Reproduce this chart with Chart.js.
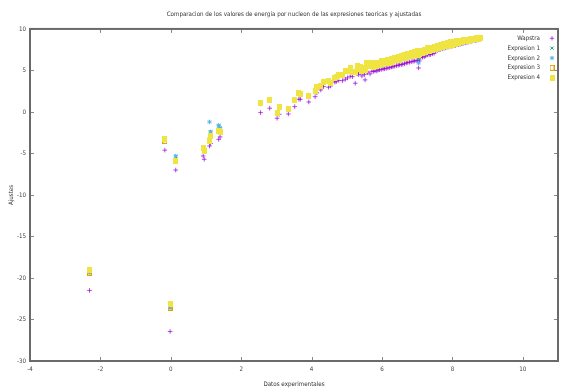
<!DOCTYPE html>
<html>
<head>
<meta charset="utf-8">
<script src="https://cdn.jsdelivr.net/npm/chart.js@4/dist/chart.umd.min.js"></script>
<style>
  html, body { margin: 0; padding: 0; background: #fff; overflow: hidden; }
</style>
</head>
<body>
<canvas id="grafica" width="563" height="389"></canvas>
<script>
// valores: un nucleo por posicion
const datosExp = [
  -2.31, -0.17, -0.02, 0.14, 0.92, 0.95, 1.10, 1.13, 1.36, 1.40,
  2.55, 2.81, 3.02, 3.08, 3.34, 3.52, 3.64, 3.68, 3.92, 4.10,
  4.15, 4.26, 4.34, 4.48, 4.54, 4.66, 4.70, 4.77, 4.88, 4.96,
  5.02, 5.10, 5.16, 5.24, 5.29, 5.33, 5.38, 5.43, 5.50, 5.52,
  5.57, 5.59, 5.66, 5.71,
  5.76, 5.80, 5.85, 5.89, 5.93, 5.98, 6.03, 6.07, 6.12, 6.17,
  6.22, 6.27, 6.31, 6.36, 6.41, 6.46, 6.50, 6.55, 6.59, 6.64,
  6.69, 6.73, 6.78, 6.83, 6.88, 6.92, 6.97, 7.01, 7.04, 7.06,
  7.10, 7.15, 7.20, 7.24, 7.29, 7.34, 7.38, 7.43, 7.48, 7.52,
  7.57, 7.62, 7.66, 7.71, 7.76, 7.80, 7.85, 7.90, 7.95, 7.99,
  8.04, 8.09, 8.13, 8.18, 8.23, 8.27, 8.32, 8.37, 8.41, 8.46,
  8.51, 8.55, 8.60, 8.65, 8.69, 8.74, 8.78, 8.80
];
const wapstra = [
  -21.5, -4.6, -26.45, -7.0, -5.3, -5.7, -4.1, -3.8, -3.3, -3.0,
  -0.08, 0.45, -0.76, -0.28, -0.24, 0.64, 1.53, 1.53, 1.2, 1.84,
  2.3, 2.65, 3.05, 2.98, 3.13, 3.6, 3.65, 3.8, 3.77, 3.94,
  4.1, 4.3, 4.25, 3.46, 4.6, 4.5, 4.73, 4.34, 4.5, 3.86,
  4.9, 4.73, 4.58, 4.9,
  4.88, 4.95, 4.94, 5.05, 5.08, 5.12, 5.18, 5.2, 5.25, 5.3,
  5.34, 5.42, 5.45, 5.52, 5.58, 5.62, 5.68, 5.72, 5.75, 5.82,
  5.9, 5.96, 5.99, 6.05, 6.1, 6.14, 6.18, 6.2, 5.3, 6.14,
  6.54, 6.6, 6.65, 6.75, 6.87, 6.9, 6.92, 7.0, 7.07, 7.3,
  7.4, 7.5, 7.55, 7.6, 7.68, 7.72, 7.8, 7.82, 7.9, 7.92,
  8.0, 8.02, 8.1, 8.12, 8.18, 8.22, 8.28, 8.32, 8.38, 8.42,
  8.48, 8.52, 8.58, 8.6, 8.66, 8.68, 8.74, 8.72
];
const expresion1 = [
  -19.3, -3.3, -23.55, -5.4, -4.2, -4.5, -3.3, -2.4, -1.7, -2.0,
  1.0, 1.4, -0.2, 0.55, 0.35, 1.4, 2.3, 2.1, 1.9, 2.5,
  3.0, 3.1, 3.6, 3.7, 3.4, 4.1, 4.2, 4.4, 4.45, 4.9,
  4.85, 5.2, 4.75, 4.8, 5.45, 5.15, 5.4, 4.85, 5.3, 5.0,
  5.85, 5.7, 5.5, 5.9,
  5.35, 5.8, 5.45, 5.9, 5.55, 6.05, 5.7, 6.1, 5.8, 6.2,
  5.9, 6.35, 6.0, 6.45, 6.15, 6.55, 6.25, 6.7, 6.4, 6.8,
  6.5, 6.95, 6.65, 7.05, 6.75, 7.15, 6.85, 7.25, 6.4, 6.95,
  7.35, 7.05, 7.45, 7.15, 7.6, 7.3, 7.7, 7.45, 7.8, 7.55,
  7.95, 7.65, 8.05, 7.75, 8.15, 7.85, 8.25, 7.95, 8.35, 8.05,
  8.4, 8.15, 8.5, 8.25, 8.55, 8.35, 8.6, 8.45, 8.7, 8.55,
  8.75, 8.65, 8.8, 8.72, 8.85, 8.8, 8.88, 8.85
];
const expresion2 = [
  -19.3, -3.4, -23.6, -5.3, -4.3, -4.6, -1.2, -2.4, -1.6, -1.9,
  0.95, 1.35, -0.25, 0.5, 0.3, 1.35, 2.25, 2.05, 1.85, 2.45,
  2.95, 3.05, 3.55, 3.65, 3.35, 4.05, 4.15, 4.35, 4.4, 4.85,
  4.8, 5.15, 4.7, 4.75, 5.4, 5.1, 5.35, 4.8, 5.25, 4.95,
  5.8, 5.65, 5.45, 5.85,
  5.3, 5.75, 5.4, 5.85, 5.5, 6.0, 5.65, 6.05, 5.75, 6.15,
  5.85, 6.3, 5.95, 6.4, 6.1, 6.5, 6.2, 6.65, 6.35, 6.75,
  6.45, 6.9, 6.6, 7.0, 6.7, 7.1, 6.8, 7.2, 5.9, 6.9,
  7.3, 7.0, 7.4, 7.05, 7.55, 7.2, 7.65, 7.35, 7.75, 7.45,
  7.9, 7.55, 8.0, 7.65, 8.1, 7.75, 8.2, 7.85, 8.3, 7.95,
  8.35, 8.05, 8.45, 8.15, 8.5, 8.25, 8.55, 8.35, 8.65, 8.45,
  8.7, 8.55, 8.75, 8.62, 8.8, 8.7, 8.82, 8.75
];
const expresion3 = [
  -19.35, -3.5, -23.6, -5.9, -4.4, -4.7, -3.5, -2.9, -2.3, -2.4,
  1.05, 1.45, -0.15, 0.6, 0.4, 1.45, 2.3, 2.15, 1.95, 2.55,
  3.05, 3.15, 3.65, 3.75, 3.45, 4.15, 4.25, 4.45, 4.5, 4.95,
  4.9, 5.25, 4.8, 4.85, 5.5, 5.2, 5.45, 4.9, 5.35, 5.05,
  5.9, 5.75, 5.55, 5.95,
  5.45, 5.9, 5.5, 5.95, 5.6, 6.1, 5.75, 6.15, 5.85, 6.25,
  5.95, 6.4, 6.05, 6.5, 6.2, 6.6, 6.3, 6.75, 6.45, 6.85,
  6.55, 7.0, 6.7, 7.1, 6.8, 7.2, 6.9, 7.3, 6.85, 7.0,
  7.4, 7.1, 7.5, 7.2, 7.65, 7.35, 7.75, 7.5, 7.85, 7.6,
  8.0, 7.7, 8.1, 7.8, 8.2, 7.9, 8.3, 8.0, 8.4, 8.1,
  8.45, 8.2, 8.55, 8.3, 8.6, 8.4, 8.65, 8.5, 8.72, 8.6,
  8.78, 8.7, 8.82, 8.76, 8.88, 8.84, 8.9, 8.88
];
const expresion4 = [
  -19.0, -3.2, -23.1, -5.9, -4.4, -4.7, -3.5, -2.9, -2.3, -2.4,
  1.05, 1.45, -0.15, 0.6, 0.4, 1.45, 2.3, 2.15, 1.95, 2.55,
  3.05, 3.15, 3.65, 3.75, 3.45, 4.15, 4.25, 4.45, 4.5, 4.95,
  4.9, 5.25, 4.8, 4.85, 5.5, 5.2, 5.45, 4.9, 5.35, 5.05,
  5.9, 5.75, 5.55, 5.95,
  5.45, 5.9, 5.5, 5.95, 5.6, 6.1, 5.75, 6.15, 5.85, 6.25,
  5.95, 6.4, 6.05, 6.5, 6.2, 6.6, 6.3, 6.75, 6.45, 6.85,
  6.55, 7.0, 6.7, 7.1, 6.8, 7.2, 6.9, 7.3, 6.85, 7.0,
  7.4, 7.1, 7.5, 7.2, 7.65, 7.35, 7.75, 7.5, 7.85, 7.6,
  8.0, 7.7, 8.1, 7.8, 8.2, 7.9, 8.3, 8.0, 8.4, 8.1,
  8.45, 8.2, 8.55, 8.3, 8.6, 8.4, 8.65, 8.5, 8.72, 8.6,
  8.78, 8.7, 8.82, 8.76, 8.88, 8.84, 8.9, 8.88
];
const series = ['Wapstra', 'Expresion 1', 'Expresion 2', 'Expresion 3', 'Expresion 4'];

const FONT = "'Liberation Sans Narrow', 'DejaVu Sans Condensed', 'Liberation Sans', sans-serif";
const TAM = 6.2;
Chart.defaults.font.family = FONT;
Chart.defaults.font.size = TAM;
Chart.defaults.color = '#444';

let puntos = function (ys) {
  return datosExp.map((x, i) => ({ x: x, y: ys[i] }));
};

// cuadrados algo mas altos que anchos, como en la imagen original
let marca = function (w, h, relleno, borde) {
  const c = document.createElement('canvas');
  c.width = w; c.height = h;
  const g = c.getContext('2d');
  if (relleno) { g.fillStyle = relleno; g.fillRect(0, 0, w, h); }
  if (borde) { g.strokeStyle = borde; g.lineWidth = 1; g.strokeRect(0.5, 0.5, w - 1, h - 1); }
  return c;
};
const cuadroAbierto = marca(5, 6, null, '#E69F00');
const cuadroLleno = marca(5, 6, '#F0E442', null);

// marco y marcas hacia dentro, como gnuplot
const marco = {
  id: 'marco',
  beforeDatasetsDraw(chart) {
    const ctx = chart.ctx;
    const a = chart.chartArea;
    const sx = chart.scales.x, sy = chart.scales.y;
    ctx.save();
    ctx.strokeStyle = '#888';
    ctx.lineWidth = 1;
    ctx.beginPath();
    sx.ticks.forEach(t => {
      const px = Math.round(sx.getPixelForValue(t.value)) + 0.5;
      ctx.moveTo(px, a.bottom); ctx.lineTo(px, a.bottom - 4);
      ctx.moveTo(px, a.top); ctx.lineTo(px, a.top + 4);
    });
    sy.ticks.forEach(t => {
      const py = Math.round(sy.getPixelForValue(t.value)) + 0.5;
      ctx.moveTo(a.left, py); ctx.lineTo(a.left + 4, py);
      ctx.moveTo(a.right, py); ctx.lineTo(a.right - 4, py);
    });
    ctx.stroke();
    ctx.strokeStyle = '#6a6a6a';
    ctx.lineWidth = 2;
    ctx.strokeRect(a.left, a.top, a.right - a.left, a.bottom - a.top);
    ctx.restore();
  }
};

// leyenda arriba a la derecha, texto a la izquierda del simbolo
const leyenda = {
  id: 'leyenda',
  afterDatasetsDraw(chart) {
    const ctx = chart.ctx;
    ctx.save();
    ctx.font = TAM + 'px ' + FONT;
    ctx.textAlign = 'right';
    ctx.textBaseline = 'middle';
    chart.data.datasets.forEach((ds, i) => {
      const y = 38.3 + i * 9.85;
      ctx.fillStyle = '#333';
      ctx.fillText(ds.label, 540, y);
      ctx.strokeStyle = ds.borderColor;
      ctx.fillStyle = ds.backgroundColor;
      ctx.lineWidth = 1;
      Chart.helpers.drawPoint(ctx, { pointStyle: ds.pointStyle, radius: 2.2, borderWidth: 1, rotation: 0 }, 552, y);
    });
    ctx.restore();
  }
};

let conjunto = function (label, ys, estilo, color, relleno, radio, orden) {
  return {
    label: label,
    data: puntos(ys),
    pointStyle: estilo,
    borderColor: color,
    backgroundColor: relleno,
    pointRadius: radio,
    pointBorderWidth: 1,
    order: orden
  };
};

new Chart(document.getElementById('grafica'), {
  type: 'scatter',
  data: {
    datasets: [
      conjunto(series[0], wapstra, 'cross', 'rgba(148,0,211,0.7)', 'rgba(0,0,0,0)', 2.3, 5),
      conjunto(series[1], expresion1, 'crossRot', '#009E73', 'rgba(0,0,0,0)', 2.2, 4),
      conjunto(series[2], expresion2, 'star', '#56B4E9', 'rgba(0,0,0,0)', 2.2, 3),
      conjunto(series[3], expresion3, cuadroAbierto, '#E69F00', 'rgba(0,0,0,0)', 3, 2),
      conjunto(series[4], expresion4, cuadroLleno, '#F0E442', '#F0E442', 3, 1)
    ]
  },
  options: {
    responsive: false,
    devicePixelRatio: 1,
    animation: false,
    events: [],
    layout: { padding: { left: 0, right: -3, top: 0, bottom: 0 } },
    plugins: {
      legend: { display: false },
      tooltip: { enabled: false },
      title: {
        display: true,
        fullSize: false,
        text: 'Comparacion de los valores de energia por nucleon de las expresiones teoricas y ajustadas',
        color: '#333',
        font: { size: TAM, weight: 'normal' },
        padding: { top: 10.5, bottom: 11 }
      }
    },
    scales: {
      x: {
        type: 'linear',
        min: -4,
        max: 11,
        grid: { display: false, drawTicks: false },
        border: { display: false },
        ticks: { stepSize: 2, includeBounds: false, padding: 5, maxRotation: 0 },
        title: { display: true, text: 'Datos experimentales', color: '#333', padding: { top: 0, bottom: 1 } },
        afterFit(scale) { scale.height = 28; }
      },
      y: {
        type: 'linear',
        min: -30,
        max: 10,
        grid: { display: false, drawTicks: false },
        border: { display: false },
        ticks: { stepSize: 5, padding: 4 },
        title: { display: true, text: 'Ajustes', color: '#333', padding: { top: 8, bottom: 0 } },
        afterFit(scale) { scale.width = 30; }
      }
    }
  },
  plugins: [marco, leyenda]
});
</script>
</body>
</html>
